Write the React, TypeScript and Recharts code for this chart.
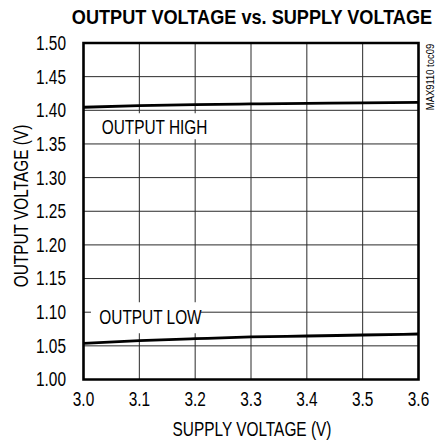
import React from "react";
import { LineChart, Line, XAxis, YAxis, CartesianGrid, ReferenceArea } from "recharts";

const supplyVoltage = [3.0, 3.1, 3.2, 3.3, 3.4, 3.5, 3.6];
const outputHigh = [1.4045, 1.4068, 1.4083, 1.4094, 1.4104, 1.4111, 1.4119];
const outputLow = [1.0538, 1.0577, 1.0606, 1.0632, 1.0646, 1.0661, 1.0676];
const xTicks = [3.0, 3.1, 3.2, 3.3, 3.4, 3.5, 3.6];
const yTicks = [1.0, 1.05, 1.1, 1.15, 1.2, 1.25, 1.3, 1.35, 1.4, 1.45, 1.5];

const data = supplyVoltage.map((v, i) => ({ v, high: outputHigh[i], low: outputLow[i] }));

const FONT = "'Liberation Sans', Arial, sans-serif";

type NProps = {
  x: number;
  y: number;
  anchor?: "start" | "middle" | "end";
  size?: number;
  weight?: string;
  rotate?: number;
  sx?: number;
  dy?: string;
  children: React.ReactNode;
};

function NText({ x, y, anchor = "start", size = 19.5, weight = "normal", rotate = 0, sx = 0.79, dy, children }: NProps) {
  return (
    <text
      transform={`translate(${x},${y}) rotate(${rotate}) scale(${sx},1)`}
      textAnchor={anchor}
      fontSize={size}
      fontWeight={weight}
      fontFamily={FONT}
      fill="#000"
      dy={dy}
    >
      {children}
    </text>
  );
}

const XTick = (props: any) => (
  <NText x={props.x} y={props.y} anchor="middle" dy="0.71em">
    {Number(props.payload.value).toFixed(1)}
  </NText>
);

const YTick = (props: any) => (
  <NText x={props.x} y={props.y} anchor="end" dy="0.355em">
    {Number(props.payload.value).toFixed(2)}
  </NText>
);

const makeLabel = (text: string, dx: number, dy: number) => (props: any) => {
  const vb = props.viewBox || {};
  return (
    <NText x={vb.x + dx} y={vb.y + dy}>
      {text}
    </NText>
  );
};

export default function App() {
  return (
    <div style={{ position: "relative", width: 446, height: 442 }}>
      <style>{`html,body{margin:0;padding:0;overflow:hidden;background:#fff;}`}</style>
      <LineChart
        width={446}
        height={442}
        data={data}
        margin={{ top: 43, right: 27.5, bottom: 0, left: 0 }}
        style={{ fontFamily: FONT }}
      >
        <CartesianGrid stroke="#2a2a2a" strokeWidth={1} horizontalValues={yTicks} verticalValues={xTicks} />
        <XAxis
          dataKey="v"
          type="number"
          domain={[3.0, 3.6]}
          ticks={xTicks}
          height={62.5}
          axisLine={false}
          tickLine={false}
          tickSize={6}
          tickMargin={6.7}
          interval={0}
          tick={<XTick />}
        />
        <YAxis
          type="number"
          domain={[1.0, 1.5]}
          ticks={yTicks}
          width={83.5}
          axisLine={false}
          tickLine={false}
          tickSize={8}
          tickMargin={9.5}
          interval={0}
          tick={<YTick />}
        />
        <ReferenceArea
          x1={3.0134}
          x2={3.2176}
          y1={1.3569}
          y2={1.3955}
          fill="#fff"
          fillOpacity={1}
          stroke="none"
          label={makeLabel("OUTPUT HIGH", 10.7, 20.5)}
        />
        <ReferenceArea
          x1={3.0134}
          x2={3.2104}
          y1={1.0686}
          y2={1.1147}
          fill="#fff"
          fillOpacity={1}
          stroke="none"
          label={makeLabel("OUTPUT LOW", 8.3, 22)}
        />
        <Line type="monotone" dataKey="high" stroke="#000" strokeWidth={2.8} dot={false} isAnimationActive={false} />
        <Line type="monotone" dataKey="low" stroke="#000" strokeWidth={2.8} dot={false} isAnimationActive={false} />
        <ReferenceArea
          x1={3.0}
          x2={3.6}
          y1={1.0}
          y2={1.5}
          fill="none"
          fillOpacity={0}
          stroke="#000"
          strokeWidth={2.6}
        />
      </LineChart>
      <svg
        width={446}
        height={442}
        style={{ position: "absolute", left: 0, top: 0, pointerEvents: "none" }}
      >
        <NText x={252} y={24} anchor="middle" size={20.5} weight="bold" sx={0.885}>
          OUTPUT VOLTAGE vs. SUPPLY VOLTAGE
        </NText>
        <NText x={252} y={436} anchor="middle">
          SUPPLY VOLTAGE (V)
        </NText>
        <NText x={28} y={206} anchor="middle" rotate={-90}>
          OUTPUT VOLTAGE (V)
        </NText>
        <NText x={434} y={77} anchor="middle" size={11.5} rotate={-90} sx={0.82}>
          MAX9110 toc09
        </NText>
      </svg>
    </div>
  );
}
